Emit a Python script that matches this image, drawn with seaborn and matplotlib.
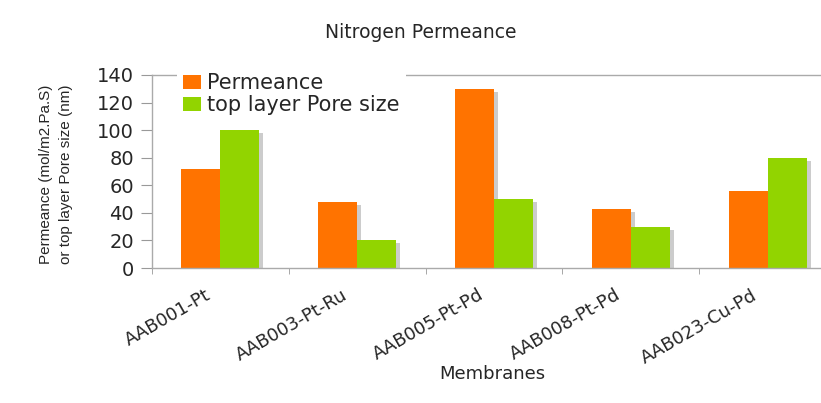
import numpy as np
import pandas as pd
import seaborn as sns
import matplotlib.pyplot as plt
import matplotlib.transforms as mtransforms

# data
membranes = ["AAB001-Pt", "AAB003-Pt-Ru", "AAB005-Pt-Pd", "AAB008-Pt-Pd", "AAB023-Cu-Pd"]
permeance = [72, 48, 130, 43, 56]
pore_size = [100, 20, 50, 30, 80]
series = ["Permeance", "top layer Pore size"]

df = pd.DataFrame({"membrane": membranes, series[0]: permeance, series[1]: pore_size})
df_long = df.melt(id_vars="membrane", var_name="series", value_name="value")

sns.set_style("white")
plt.rcParams["font.family"] = ["DejaVu Sans"]

fig = plt.figure(figsize=(8.21, 4.03), dpi=100)
ax = fig.add_axes([152 / 821, 1 - 268 / 403, 684 / 821, 193 / 403])

colors = {"Permeance": "#ff7300", "top layer Pore size": "#92d400"}

# drop shadows first, shifted a few pixels right/down
sns.barplot(data=df_long, x="membrane", y="value", hue="series",
            palette={k: "#cccccc" for k in colors}, width=0.57,
            saturation=1, legend=False, ax=ax)
shift = mtransforms.ScaledTranslation(4 / 100, -3 / 100, fig.dpi_scale_trans)
for p in list(ax.patches):
    p.set_transform(ax.transData + shift)
    p.set_linewidth(0)

n_shadow = len(ax.patches)
sns.barplot(data=df_long, x="membrane", y="value", hue="series",
            palette=colors, width=0.57, saturation=1, ax=ax)
for p in ax.patches[n_shadow:]:
    p.set_linewidth(0)

ax.set_ylim(0, 140)
ax.set_yticks(range(0, 141, 20))
ax.set_xlim(-0.5, 4.5)

# category boundary ticks
ax.set_xticks(np.arange(-0.5, 5, 1), minor=True)
ax.tick_params(axis="x", which="major", length=0, pad=13)
ax.tick_params(axis="x", which="minor", length=4, color="#999999", direction="out", bottom=True)
ax.tick_params(axis="y", length=8, color="#999999", direction="out", left=True, pad=5,
               labelsize=14)
plt.setp(ax.get_xticklabels(), rotation=30, ha="right", rotation_mode="anchor", fontsize=13)
label_shift = mtransforms.ScaledTranslation(-16 / 100, 0, fig.dpi_scale_trans)
for t in ax.get_xticklabels():
    t.set_transform(t.get_transform() + label_shift)

for s in ax.spines.values():
    s.set_color("#aaaaaa")
    s.set_linewidth(1)

ax.set_xlabel("Membranes", fontsize=13)
ax.xaxis.set_label_coords(492 / 821, 1 - 374 / 403, transform=fig.transFigure)
ax.xaxis.label.set_va("center")

ax.set_ylabel("Permeance (mol/m2.Pa.S)\nor top layer Pore size (nm)",
              fontsize=11, family=["Liberation Sans", "DejaVu Sans"], linespacing=1.5)
ax.yaxis.set_label_coords(56 / 821, 1 - 174 / 403, transform=fig.transFigure)
ax.yaxis.label.set_va("center")

leg = ax.legend(loc="upper left", bbox_to_anchor=(177 / 821, 1 - 67 / 403),
                bbox_transform=fig.transFigure, fontsize=15, frameon=True,
                framealpha=1, facecolor="white", edgecolor="none",
                handlelength=0.85, handleheight=0.6, handletextpad=0.3,
                labelspacing=0.1, borderpad=0.3, borderaxespad=0, fancybox=False)
leg.set_zorder(5)

fig.text(421 / 821, 1 - 32 / 403, "Nitrogen Permeance", ha="center", va="center", fontsize=13.5)

fig.savefig("out.png", dpi=100)
